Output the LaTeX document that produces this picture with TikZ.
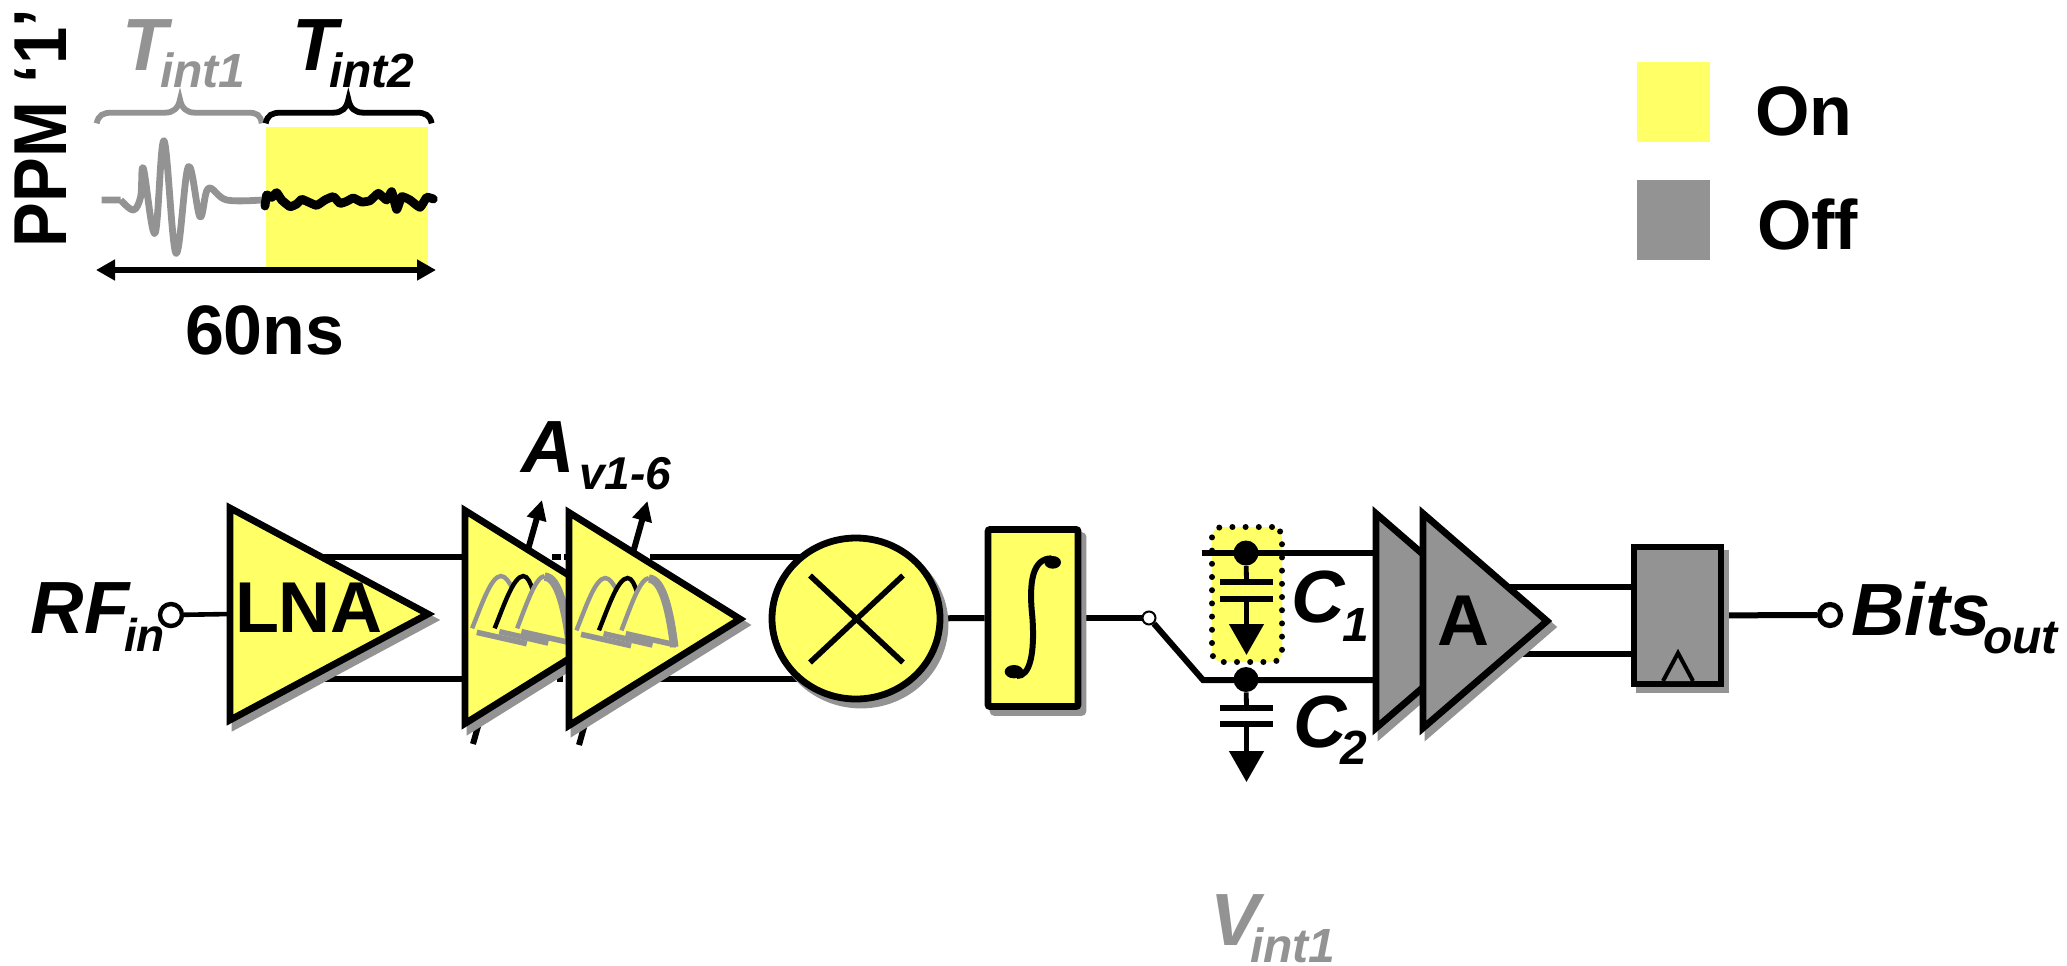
\documentclass[tikz,border=0pt]{standalone}
\usepackage{fontspec}
\usepackage{graphicx}
\setmainfont{Liberation Sans}
\usetikzlibrary{arrows.meta,shapes.geometric,shadows,backgrounds}
\definecolor{yon}{HTML}{FFFF66}
\definecolor{goff}{HTML}{939393}
\tikzset{
  txt/.style={inner sep=0pt,outer sep=0pt,anchor=base west},
  big/.style={txt,font=\fontsize{36}{36}\selectfont\bfseries},
  bigi/.style={txt,font=\fontsize{37}{37}\selectfont\bfseries\itshape},
  subi/.style={txt,font=\fontsize{24}{24}\selectfont\bfseries\itshape},
  wire/.style={draw=black,line width=3pt},
  thinwire/.style={draw=black,line width=2.3pt},
  blockline/.style={line width=3.4pt,line join=miter,miter limit=10},
  shad/.style={blockline,draw=goff,fill=goff},
  shadow node/.style={blockline,general shadow={draw=goff,fill=goff,shadow xshift=2.5pt,shadow yshift=-3pt}},
  ground/.style={line width=2.4pt,-{Triangle[length=15.5pt,width=17pt]}},
  plate/.style={line width=3pt},
  tune/.style={line width=3pt,-{Triangle[length=10pt,width=9.5pt]}},
  span/.style={line width=3pt,{Triangle[length=9.5pt,width=10pt]}-{Triangle[length=9.5pt,width=10pt]}},
  zoomed/.style={x=0.16667pt,y=-0.16667pt},
  junction/.style={circle,fill=black,inner sep=0pt,minimum size=12.5pt},
  term/.style={circle,draw=black,fill=white,line width=2.6pt,inner sep=0pt,minimum size=10.5pt},
}
\newcommand{\ampshape}[4]{%
  \draw[shad,shift={(5,6)}] #1 -- #2 -- #3 -- cycle;
  \draw[blockline,draw=black,fill=#4] #1 -- #2 -- #3 -- cycle;}
\newcommand{\bpglyph}[2]{%
  \begin{scope}[shift={(#1,#2)},x=0.17857pt,y=-0.16667pt]
    \draw[goff,line width=2.2pt] (762,685) .. controls (790,610) and (815,530) .. (842,528) .. controls (855,528) and (865,545) .. (875,565);
    \draw[black,line width=2.2pt] (825,685) .. controls (853,610) and (878,530) .. (905,528) .. controls (918,528) and (925,550) .. (932,570);
    \draw[goff,line width=2.2pt] (888,685) .. controls (915,610) and (940,530) .. (965,528);
    \draw[goff,line width=4.2pt] (965,530) .. controls (1005,530) and (1025,640) .. (1036,735);
    \draw[goff,line width=2.8pt] (775,697) -- (915,731);
    \draw[goff,line width=2.8pt] (838,695) -- (975,729);
    \draw[goff,line width=2.8pt] (900,695) -- (1041,729);
  \end{scope}}
\begin{document}
\begin{tikzpicture}[x=0.5pt,y=-0.5pt]
\useasboundingbox (0,0) rectangle (2067,965);

% ---------- coordinates for wire ends
\coordinate (lnaIn) at (230,614);
\coordinate (lnaT) at (320,557); \coordinate (lnaB) at (320,679);
\coordinate (a1T) at (465,557);  \coordinate (a1B) at (465,679);
\coordinate (dT1) at (552,557);  \coordinate (dT2) at (566,557);
\coordinate (dB1) at (557,679);  \coordinate (dB2) at (563,679);
\coordinate (a2T) at (650,557);  \coordinate (a2B) at (650,679);
\coordinate (mxT) at (800,557);  \coordinate (mxB) at (800,679);
\coordinate (t1a) at (473,744);  \coordinate (t1b) at (542,500);
\coordinate (t2a) at (579,745);  \coordinate (t2b) at (647.5,501);
\coordinate (kink) at (1203,680);
\coordinate (c1L) at (1202,553); \coordinate (c1R) at (1373,553);
\coordinate (c2R) at (1373,680);
\coordinate (ampTo) at (1510,587); \coordinate (ampBo) at (1510,654);
\coordinate (dffT) at (1634,587);  \coordinate (dffB) at (1634,654);

% ---------- legend
\fill[yon] (1637,62) rectangle (1710,142);
\fill[goff] (1637,180) rectangle (1710,260);
\node[big,font=\fontsize{35}{35}\selectfont\bfseries] (on) at (1755,135) {On};
\node[big,font=\fontsize{35}{35}\selectfont\bfseries] (off) at (1757,249) {Off};

% ---------- timing panel
\node[big,font=\fontsize{33.5}{33.5}\selectfont\bfseries,rotate=90] (ppm) at (66,247) {\scalebox{1}[1.12]{PPM ‘1’}};
\fill[yon] (266,127) rectangle (428,267);
\node[bigi,goff] (t1) at (122,70) {T};
\node[subi,goff] (t1s) at (160,87) {int1};
\node[bigi] (t2) at (292,70) {T};
\node[subi] (t2s) at (329,87) {int2};
\begin{scope}[zoomed]
  \draw[goff,line width=2.9pt] (290,370) .. controls (295,345) and (310,338) .. (335,338) -- (495,338) .. controls (520,338) and (535,325) .. (540,298) .. controls (545,325) and (560,338) .. (585,338) -- (745,338) .. controls (770,338) and (782,345) .. (785,370);
  \draw[black,line width=2.9pt] (797,370) .. controls (802,345) and (817,338) .. (842,338) -- (1000,338) .. controls (1025,338) and (1040,325) .. (1045,298) .. controls (1050,325) and (1065,338) .. (1090,338) -- (1250,338) .. controls (1275,338) and (1290,345) .. (1295,370);
  \draw[goff,line width=3.4pt,line join=round] (305,600) -- (362,600) plot[smooth,tension=.6] coordinates {(362,600) (400,630) (422,590) (430,505) (465,700) (492,422) (528,760) (565,500) (600,650) (625,565) (680,600) (785,600)};
  \draw[black,line width=4.4pt,line join=round,line cap=round] plot[smooth,tension=.25] coordinates {(795,618) (800,585) (815,592) (830,578) (845,600) (870,620) (890,612) (905,598) (925,606) (950,616) (975,600) (1000,590) (1020,610) (1040,604) (1060,594) (1085,606) (1110,602) (1135,580) (1160,600) (1175,575) (1190,628) (1205,590) (1230,600) (1260,622) (1280,592) (1300,597)};
\end{scope}
\coordinate (spanL) at (96,270); \coordinate (spanR) at (436,270);
\draw[span] (spanL) -- (spanR);
\node[big,font=\fontsize{35}{35}\selectfont\bfseries] (sixty) at (185,354) {60ns};

% ---------- chain blocks
\node[bigi] (rf) at (31,633) {RF};
\node[subi,font=\fontsize{23}{23}\selectfont\bfseries\itshape] (rfs) at (124,651) {in};
\node[term,line width=2.2pt,minimum size=11pt] (rfc) at (171,615) {};

\ampshape{(230,508)}{(230,720)}{(428,614)}{yon}
\node[big] (lna) at (235,632) {LNA};

\ampshape{(465,510.5)}{(465,723.5)}{(636,617)}{yon}
\bpglyph{200}{400}
\ampshape{(569,512.5)}{(569,725.5)}{(740,619)}{yon}
\bpglyph{304.3}{402}
\node[bigi] (av) at (521,472) {A};
\node[subi,font=\fontsize{23}{23}\selectfont\bfseries\itshape] (avs) at (579,489) {v1-6};

\node[shadow node,ellipse,draw=black,fill=yon,inner sep=0pt,minimum width=84pt,minimum height=80.5pt] (mix) at (856,618.5) {};
\draw[line width=2.8pt] ([xshift=-23pt,yshift=21.5pt]mix.center) -- ([xshift=23.5pt,yshift=-22pt]mix.center);
\draw[line width=2.8pt] ([xshift=23.5pt,yshift=21.5pt]mix.center) -- ([xshift=-23pt,yshift=-22pt]mix.center);

\node[shadow node,rectangle,rounded corners=1pt,draw=black,fill=yon,inner sep=0pt,minimum width=45pt,minimum height=88.5pt] (intg) at (1033,618) {};
\begin{scope}[shift={(740,500)},zoomed]
  \draw[line width=3pt] (830,528) .. controls (870,530) and (885,460) .. (877,350) .. controls (865,240) and (880,175) .. (935,175);
  \fill (822,515) ellipse [x radius=28,y radius=20];
  \fill (938,187) ellipse [x radius=25,y radius=19];
\end{scope}

\node[draw=black,fill=white,circle,line width=1pt,inner sep=0pt,minimum size=6.5pt] (sw) at (1149,618) {};

\node[rectangle,rounded corners=5pt,fill=yon,draw=black,line width=3pt,line cap=round,dash pattern=on 0pt off 6.6pt,inner sep=0pt,minimum width=35pt,minimum height=67.5pt] (cbox) at (1247,594.5) {};

\ampshape{(1376,513.5)}{(1376,728)}{(1500,621)}{goff}
\ampshape{(1423,513.5)}{(1423,728)}{(1547,621)}{goff}
\node[big] (amp) at (1437,645) {A};

\node[shadow node,rectangle,draw=black,fill=goff,inner sep=0pt,minimum width=43.5pt,minimum height=68.5pt] (dff) at (1677.5,615.5) {};
\draw[line width=2pt,fill=goff] (1663,681) -- (1678,653) -- (1693,681);

\node[term] (bo) at (1830,615) {};
\node[bigi] (bits) at (1851,635) {Bits};
\node[subi] (bitss) at (1983,653) {out};

% ---------- capacitors
\node[junction] (j1) at (1246,553) {};
\node[junction] (j2) at (1246,679.5) {};
\coordinate (p1a) at (1220,582); \coordinate (p1b) at (1273,582);
\coordinate (p2a) at (1220,599); \coordinate (p2b) at (1273,599);
\coordinate (p3a) at (1220,708); \coordinate (p3b) at (1273,708);
\coordinate (p4a) at (1220,724); \coordinate (p4b) at (1273,724);
\coordinate (g1) at (1246.5,655); \coordinate (g2) at (1246.5,782);
\draw[wire] (c1L) -- (c1R);
\draw[line width=2.4pt] (j1) -- (1246.5,582);
\draw[plate] (p1a) -- (p1b);
\draw[plate] (p2a) -- (p2b);
\draw[ground] (1246.5,599) -- (g1);
\draw[line width=2.4pt] (j2) -- (1246.5,708);
\draw[plate] (p3a) -- (p3b);
\draw[plate] (p4a) -- (p4b);
\draw[ground] (1246.5,724) -- (g2);
\node[bigi] (c1) at (1291,622) {C};
\node[subi] (c1s) at (1342,641) {1};
\node[bigi] (c2) at (1293,747) {C};
\node[subi] (c2s) at (1340,764) {2};

\node[bigi,goff] (v) at (1210,945) {V};
\node[subi,goff] (vs) at (1250,962) {int1};

% ---------- wires, behind the blocks
\begin{scope}[on background layer]
  \draw[thinwire] (rfc) -- (lnaIn);
  \draw[wire] (lnaT) -- (a1T);
  \draw[wire] (lnaB) -- (a1B);
  \draw[wire,dash pattern=on 4.5pt off 1.5pt] (dT1) -- (dT2);
  \draw[wire] (dB1) -- (dB2);
  \draw[wire] (a2T) -- (mxT);
  \draw[wire] (a2B) -- (mxB);
  \draw[tune] (t1a) -- (t1b);
  \draw[tune] (t2a) -- (t2b);
  \draw[wire] (mix) -- (intg);
  \draw[wire] (intg) -- (sw);
  \draw[wire,line join=miter] (sw) -- (kink) -- (c2R);
  \draw[wire] (ampTo) -- (dffT);
  \draw[wire] (ampBo) -- (dffB);
  \draw[wire] (dff) -- (bo);
\end{scope}
\end{tikzpicture}
\end{document}
